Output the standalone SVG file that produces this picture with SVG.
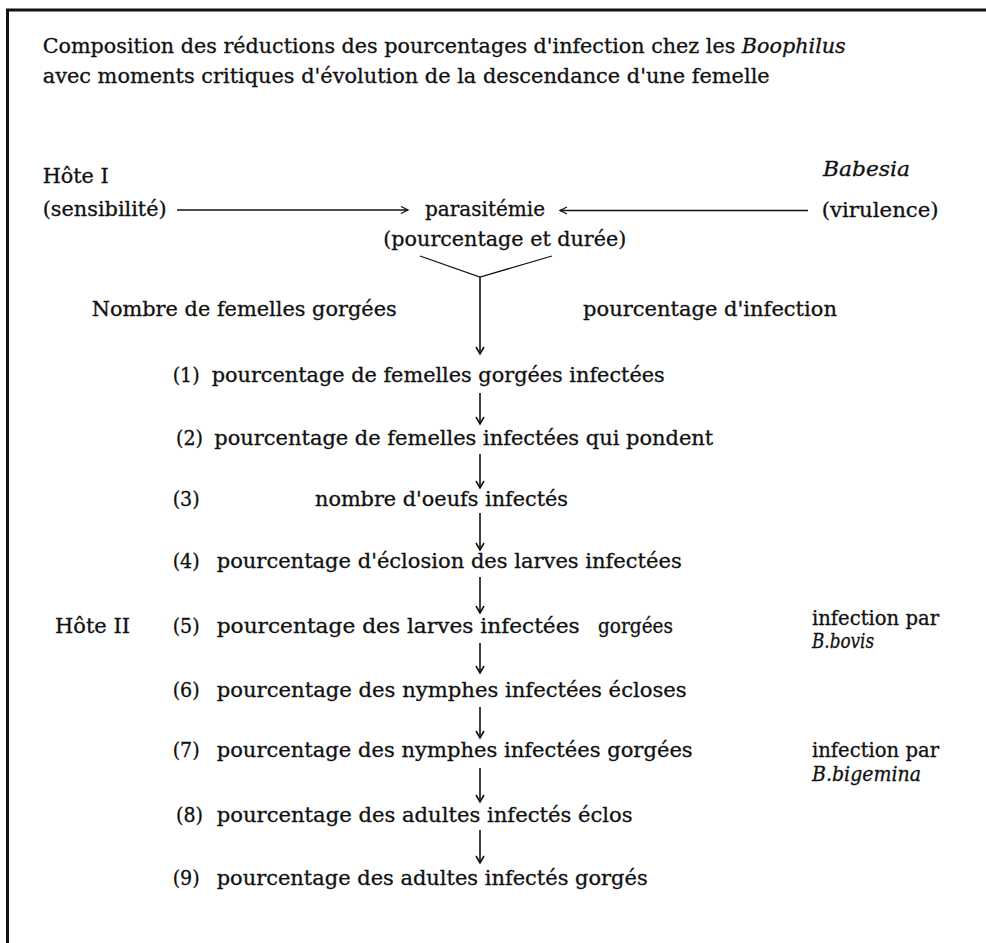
<svg xmlns="http://www.w3.org/2000/svg" width="986" height="943" viewBox="0 0 986 943">
<defs>
<style>
text{font-family:"DejaVu Serif","Liberation Serif",serif;font-size:19.5px;fill:#111;stroke:#111;stroke-width:0.3;}
.it{font-style:italic;}
.conn{stroke:#111;fill:none;stroke-width:1.6;}
.h{stroke-width:1.3;}
.frame{stroke:#111;stroke-width:3;fill:none;}
</style>
<marker id="ah" viewBox="-10 -6 12 12" markerWidth="12" markerHeight="12" refX="0" refY="0" orient="auto" markerUnits="userSpaceOnUse">
<path d="M-7,-4 L0,0 L-7,4" stroke="#111" stroke-width="1.6" fill="none"/>
</marker>
<marker id="ahh" viewBox="-10 -6 12 12" markerWidth="12" markerHeight="12" refX="0" refY="0" orient="auto" markerUnits="userSpaceOnUse">
<path d="M-7,-3.5 L0,0 L-7,3.5" stroke="#111" stroke-width="1.3" fill="none"/>
</marker>
</defs>
<rect width="986" height="943" fill="#fff"/>
<path class="frame" d="M7.5,943 L7.5,10 L986,10"/>

<g id="title">
<text x="42.7" y="53" textLength="803" lengthAdjust="spacingAndGlyphs">Composition des réductions des pourcentages d'infection chez les <tspan class="it">Boophilus</tspan></text>
<text x="42.7" y="83" textLength="727" lengthAdjust="spacingAndGlyphs">avec moments critiques d'évolution de la descendance d'une femelle</text>
</g>

<g id="hote1">
<text x="42.7" y="182.7" textLength="66" lengthAdjust="spacingAndGlyphs">Hôte I</text>
<text x="42.7" y="216" textLength="124" lengthAdjust="spacingAndGlyphs">(sensibilité)</text>
</g>
<g id="babesia">
<text class="it" x="823" y="176" textLength="87" lengthAdjust="spacingAndGlyphs">Babesia</text>
<text x="821.7" y="217" textLength="117" lengthAdjust="spacingAndGlyphs">(virulence)</text>
</g>
<g id="parasitemie">
<text x="425" y="216" textLength="120" lengthAdjust="spacingAndGlyphs">parasitémie</text>
<text x="383.3" y="246" textLength="243" lengthAdjust="spacingAndGlyphs">(pourcentage et durée)</text>
</g>
<g id="nombre">
<text x="91.7" y="316" textLength="305" lengthAdjust="spacingAndGlyphs">Nombre de femelles gorgées</text>
</g>
<g id="pct-infection">
<text x="583" y="316" textLength="254" lengthAdjust="spacingAndGlyphs">pourcentage d'infection</text>
</g>

<g id="step1">
<text x="172.7" y="382" textLength="27" lengthAdjust="spacingAndGlyphs">(1)</text>
<text x="211.7" y="382" textLength="453" lengthAdjust="spacingAndGlyphs">pourcentage de femelles gorgées infectées</text>
</g>
<g id="step2">
<text x="176" y="445" textLength="27" lengthAdjust="spacingAndGlyphs">(2)</text>
<text x="214.3" y="445" textLength="499" lengthAdjust="spacingAndGlyphs">pourcentage de femelles infectées qui pondent</text>
</g>
<g id="step3">
<text x="172.7" y="506" textLength="27" lengthAdjust="spacingAndGlyphs">(3)</text>
<text x="315" y="506" textLength="253" lengthAdjust="spacingAndGlyphs">nombre d'oeufs infectés</text>
</g>
<g id="step4">
<text x="172.7" y="568" textLength="27" lengthAdjust="spacingAndGlyphs">(4)</text>
<text x="216.7" y="568" textLength="465" lengthAdjust="spacingAndGlyphs">pourcentage d'éclosion des larves infectées</text>
</g>
<g id="hote2">
<text x="55" y="633" textLength="75" lengthAdjust="spacingAndGlyphs">Hôte II</text>
</g>
<g id="step5">
<text x="172.7" y="633" textLength="27" lengthAdjust="spacingAndGlyphs">(5)</text>
<text x="216.7" y="633" textLength="363" lengthAdjust="spacingAndGlyphs">pourcentage des larves infectées</text>
<text x="598" y="633" textLength="75" lengthAdjust="spacingAndGlyphs">gorgées</text>
</g>
<g id="bovis">
<text x="812" y="625" textLength="127" lengthAdjust="spacingAndGlyphs">infection par</text>
<text class="it" x="812" y="648" textLength="62" lengthAdjust="spacingAndGlyphs">B.bovis</text>
</g>
<g id="step6">
<text x="172.7" y="697" textLength="27" lengthAdjust="spacingAndGlyphs">(6)</text>
<text x="216.7" y="697" textLength="470" lengthAdjust="spacingAndGlyphs">pourcentage des nymphes infectées écloses</text>
</g>
<g id="step7">
<text x="172.7" y="757" textLength="27" lengthAdjust="spacingAndGlyphs">(7)</text>
<text x="216.7" y="757" textLength="476" lengthAdjust="spacingAndGlyphs">pourcentage des nymphes infectées gorgées</text>
</g>
<g id="bigemina">
<text x="812" y="757" textLength="127" lengthAdjust="spacingAndGlyphs">infection par</text>
<text class="it" x="812" y="781" textLength="109" lengthAdjust="spacingAndGlyphs">B.bigemina</text>
</g>
<g id="step8">
<text x="176" y="822" textLength="27" lengthAdjust="spacingAndGlyphs">(8)</text>
<text x="216.7" y="822" textLength="416" lengthAdjust="spacingAndGlyphs">pourcentage des adultes infectés éclos</text>
</g>
<g id="step9">
<text x="172.7" y="885" textLength="27" lengthAdjust="spacingAndGlyphs">(9)</text>
<text x="216.7" y="885" textLength="431" lengthAdjust="spacingAndGlyphs">pourcentage des adultes infectés gorgés</text>
</g>

<g id="connectors">
<line class="conn h" x1="177" y1="210" x2="408" y2="210" marker-end="url(#ahh)"/>
<line class="conn h" x1="808" y1="210.5" x2="560" y2="210.5" marker-end="url(#ahh)"/>
<polyline class="conn h" points="420,256 480,277 552,256"/>
<line class="conn" x1="480" y1="277" x2="480" y2="354" marker-end="url(#ah)"/>
<line class="conn" x1="480" y1="393" x2="480" y2="424" marker-end="url(#ah)"/>
<line class="conn" x1="480" y1="454" x2="480" y2="488" marker-end="url(#ah)"/>
<line class="conn" x1="480" y1="513" x2="480" y2="550" marker-end="url(#ah)"/>
<line class="conn" x1="480" y1="577" x2="480" y2="613" marker-end="url(#ah)"/>
<line class="conn" x1="480" y1="643" x2="480" y2="673" marker-end="url(#ah)"/>
<line class="conn" x1="480" y1="707" x2="480" y2="738" marker-end="url(#ah)"/>
<line class="conn" x1="480" y1="768" x2="480" y2="802" marker-end="url(#ah)"/>
<line class="conn" x1="480" y1="830" x2="480" y2="863" marker-end="url(#ah)"/>
</g>
</svg>
